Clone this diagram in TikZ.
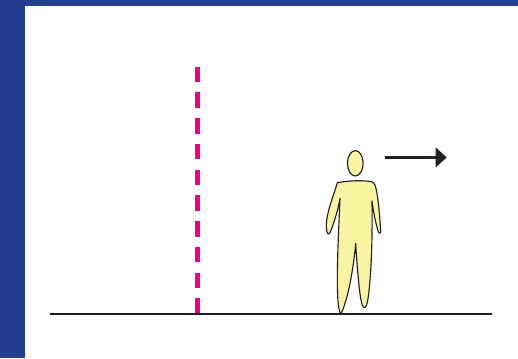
\documentclass[tikz,border=0pt]{standalone}
\usetikzlibrary{shapes.geometric}
\definecolor{bandblue}{RGB}{33,62,142}
\definecolor{dashpink}{RGB}{236,0,140}
\definecolor{skin}{RGB}{248,244,162}
\definecolor{ink}{RGB}{35,31,32}
\tikzset{
  band/.style={fill=bandblue,draw=none},
  ground/.style={draw=ink,line width=1.9pt},
  border/.style={draw=dashpink,line width=4.1pt,dash pattern=on 11.6pt off 7.7pt},
  figure/.style={draw=ink,fill=skin,line width=0.85pt,line join=round},
  motion/.style={draw=ink,line width=2pt},
  motionhead/.style={fill=ink,draw=none}
}
\begin{document}
\begin{tikzpicture}[x=0.75pt,y=-0.75pt]
\useasboundingbox (0,0) rectangle (518,358);
\fill[white] (0,0) rectangle (518,358);
\fill[band] (0,0) rectangle (518,6);
\fill[band] (0,0) rectangle (25,358);
\coordinate (dashtop) at (197.3,66.7);
\coordinate (dashbottom) at (197.3,314);
\draw[border] (dashtop) -- (dashbottom);
\coordinate (gl) at (50,314);
\coordinate (gr) at (492,314);
\draw[ground] (gl) -- (gr);
\begin{scope}[shift={(310,140)},x=0.25pt,y=-0.25pt]
\draw[figure] (82,128) .. controls (115,122) and (155,120) .. (185,125)
  .. controls (195,128) and (197,140) .. (200,155)
  .. controls (206,190) and (209,225) .. (212,272)
  .. controls (212,283) and (207,282) .. (204,272)
  .. controls (196,245) and (190,215) .. (186,183)
  .. controls (187,260) and (186,350) .. (180,420)
  .. controls (177,460) and (172,503) .. (164,503)
  .. controls (155,503) and (150,470) .. (146,425)
  .. controls (142,385) and (139,345) .. (137,310)
  .. controls (132,370) and (120,440) .. (108,480)
  .. controls (102,500) and (96,520) .. (91,520)
  .. controls (84,505) and (82,470) .. (82,420)
  .. controls (82,340) and (87,250) .. (90,175)
  .. controls (84,210) and (72,250) .. (60,278)
  .. controls (54,288) and (49,280) .. (49,255)
  .. controls (50,215) and (70,170) .. (82,128) -- cycle;
\end{scope}
\node[figure,ellipse,inner sep=0pt,minimum width=11.8pt,minimum height=19pt] (headnode) at (355.3,163.3) {};
\coordinate (al) at (385,157.7);
\coordinate (ab) at (437,157.7);
\draw[motion] (al) -- (ab);
\fill[motionhead] (435.7,147.3) -- (446.7,157.5) -- (435.7,167.3) -- cycle;
\end{tikzpicture}
\end{document}
